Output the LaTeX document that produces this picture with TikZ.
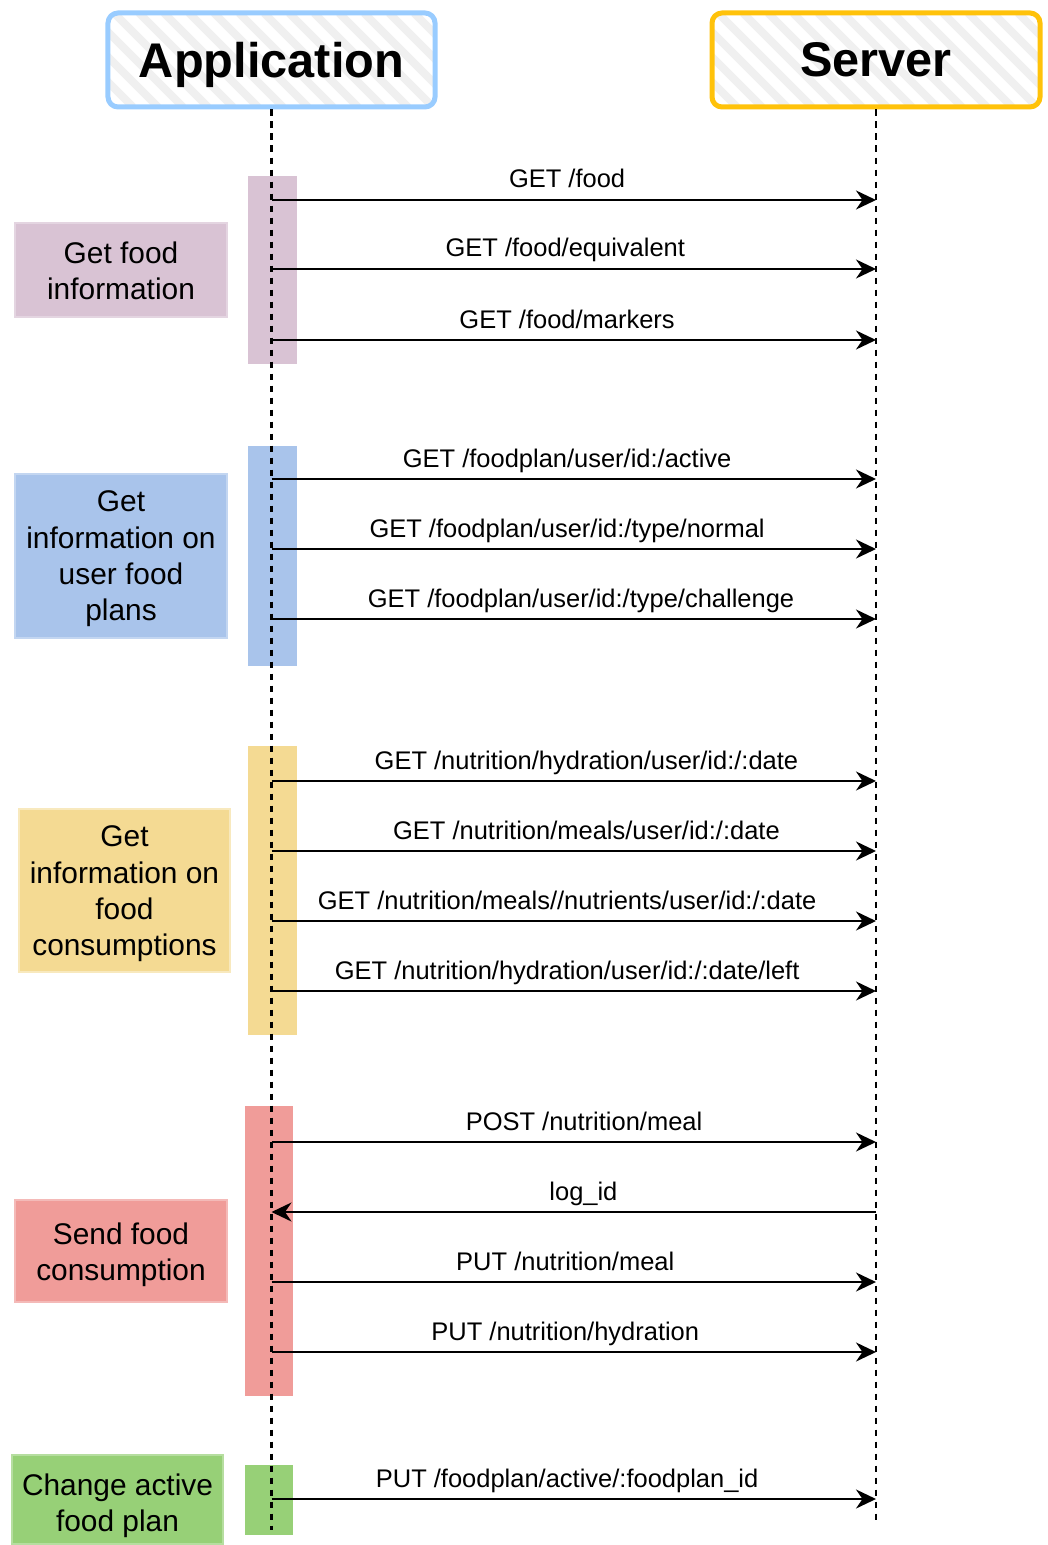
\documentclass[tikz,border=0pt]{standalone}
\usepackage{fontspec}
\setmainfont{Liberation Sans}
\usetikzlibrary{arrows.meta,positioning,fit}
\definecolor{appblue}{RGB}{153,204,255}
\definecolor{srvgold}{RGB}{255,194,10}
\definecolor{hatchgray}{RGB}{240,240,240}
\definecolor{grpP}{RGB}{217,195,212}
\definecolor{grpB}{RGB}{169,196,235}
\definecolor{grpY}{RGB}{244,218,147}
\definecolor{grpR}{RGB}{240,156,153}
\definecolor{grpG}{RGB}{151,208,119}
\tikzset{
  actor/.style={draw,line width=1mm,rounded corners=2mm,minimum width=65.4mm,
    minimum height=18.8mm,text depth=0pt,font=\fontsize{27.7}{33}\selectfont\bfseries},
  stripes/.style={hatchgray,line width=1.6mm},
  life/.style={dash pattern=on 1.3mm off 1.1mm,line width=0.5mm},
  bar/.style={inner sep=0pt},
  tag/.style={inner sep=0pt,line width=0.3mm},
  tagtext/.style={inner sep=0pt,align=center,font=\fontsize{17}{20.7}\selectfont},
  msg/.style={-{Stealth[length=4mm,width=3.8mm,inset=1.3mm]},line width=0.45mm},
  lbl/.style={anchor=base,yshift=2.4mm,inner sep=0pt,font=\fontsize{14.5}{17}\selectfont},
}

\begin{document}
\begin{tikzpicture}[x=0.2mm,y=-0.2mm]
\useasboundingbox (0,0) rectangle (1048,1545);

% actors with hatched background
\begin{scope}
  \clip[rounded corners=2mm] (108,13) rectangle (435,107);
  \foreach \i in {0,...,18} \draw[stripes] (14+\i*25,13) -- ++(94,94);
\end{scope}
\begin{scope}
  \clip[rounded corners=2mm] (712,13) rectangle (1040,107);
  \foreach \i in {0,...,18} \draw[stripes] (618+\i*25,13) -- ++(94,94);
\end{scope}
\node[actor,draw=appblue] (app) at (271.5,60) {Application};
\node[actor,draw=srvgold,minimum width=65.6mm] (srv) at (876,60) {Server};
\coordinate (appEnd) at (271.5,1530);
\coordinate (srvEnd) at (876,1525);

% activation bars
\node[bar,fill=grpP,fit={(248,176)(297,364)}] (b1) {};
\node[bar,fill=grpB,fit={(248,446)(297,666)}] (b2) {};
\node[bar,fill=grpY,fit={(248,746)(297,1035)}] (b3) {};
\node[bar,fill=grpR,fit={(245,1106)(293,1396)}] (b4) {};
\node[bar,fill=grpG,fit={(245,1465)(293,1535)}] (b5) {};

% group labels
\node[tag,fill=grpP,draw=grpP!70!white,fit={(15,223)(227,317)}] (g1) {};
\node[tag,fill=grpB,draw=grpB!70!white,fit={(15,474)(227,638)}] (g2) {};
\node[tag,fill=grpY,draw=grpY!60!white,fit={(19,809)(230,972)}] (g3) {};
\node[tag,fill=grpR,draw=grpR!70!white,fit={(15,1200)(227,1302)}] (g4) {};
\node[tag,fill=grpG,draw=grpG!70!white,fit={(12,1455)(223,1544)}] (g5) {};
\node[tagtext] (t1) at ([yshift=-0.2mm]g1.center) {Get food\\information};
\node[tagtext] (t2) at ([yshift=-0.6mm]g2.center) {Get\\information on\\user food\\plans};
\node[tagtext] (t3) at ([yshift=-0.7mm]g3.center) {Get\\information on\\food\\consumptions};
\node[tagtext] (t4) at ([yshift=-0.8mm]g4.center) {Send food\\consumption};
\node[tagtext] (t5) at ([yshift=-1.2mm]g5.center) {Change active\\food plan};

% lifelines
\draw[life] (app.south) -- (appEnd);
\draw[life] (srv.south) -- (srvEnd);

% message anchors on both lifelines
\foreach \n/\y in {1/200,2/269,3/340,4/479,5/549,6/619,7/781,8/851,
                   9/921,10/991,11/1142,12/1212,13/1282,14/1352,15/1499} {
  \coordinate (a\n) at (271.5,\y);
  \coordinate (s\n) at (876,\y);
}

% food information
\draw[msg] (a1) -- node[lbl,pos=.489] {GET /food} (s1);
\draw[msg] (a2) -- node[lbl,pos=.486] {GET /food/equivalent} (s2);
\draw[msg] (a3) -- node[lbl,pos=.489] {GET /food/markers} (s3);
% food plans
\draw[msg] (a4) -- node[lbl,pos=.489] {GET /foodplan/user/id:/active} (s4);
\draw[msg] (a5) -- node[lbl,pos=.489] {GET /foodplan/user/id:/type/normal} (s5);
\draw[msg] (a6) -- node[lbl,pos=.512] {GET /foodplan/user/id:/type/challenge} (s6);
% consumptions
\draw[msg] (a7) -- node[lbl,pos=.521] {GET /nutrition/hydration/user/id:/:date} (s7);
\draw[msg] (a8) -- node[lbl,pos=.521] {GET /nutrition/meals/user/id:/:date} (s8);
\draw[msg] (a9) -- node[lbl,pos=.489] {GET /nutrition/meals//nutrients/user/id:/:date} (s9);
\draw[msg] (a10) -- node[lbl,pos=.489] {GET /nutrition/hydration/user/id:/:date/left} (s10);
% send consumption
\draw[msg] (a11) -- node[lbl,pos=.517] {POST /nutrition/meal} (s11);
\draw[msg] (s12) -- node[lbl,pos=.484] {log\_id} (a12);
\draw[msg] (a13) -- node[lbl,pos=.486] {PUT /nutrition/meal} (s13);
\draw[msg] (a14) -- node[lbl,pos=.486] {PUT /nutrition/hydration} (s14);
% active plan
\draw[msg] (a15) -- node[lbl,pos=.489] {PUT /foodplan/active/:foodplan\_id} (s15);
\end{tikzpicture}
\end{document}
